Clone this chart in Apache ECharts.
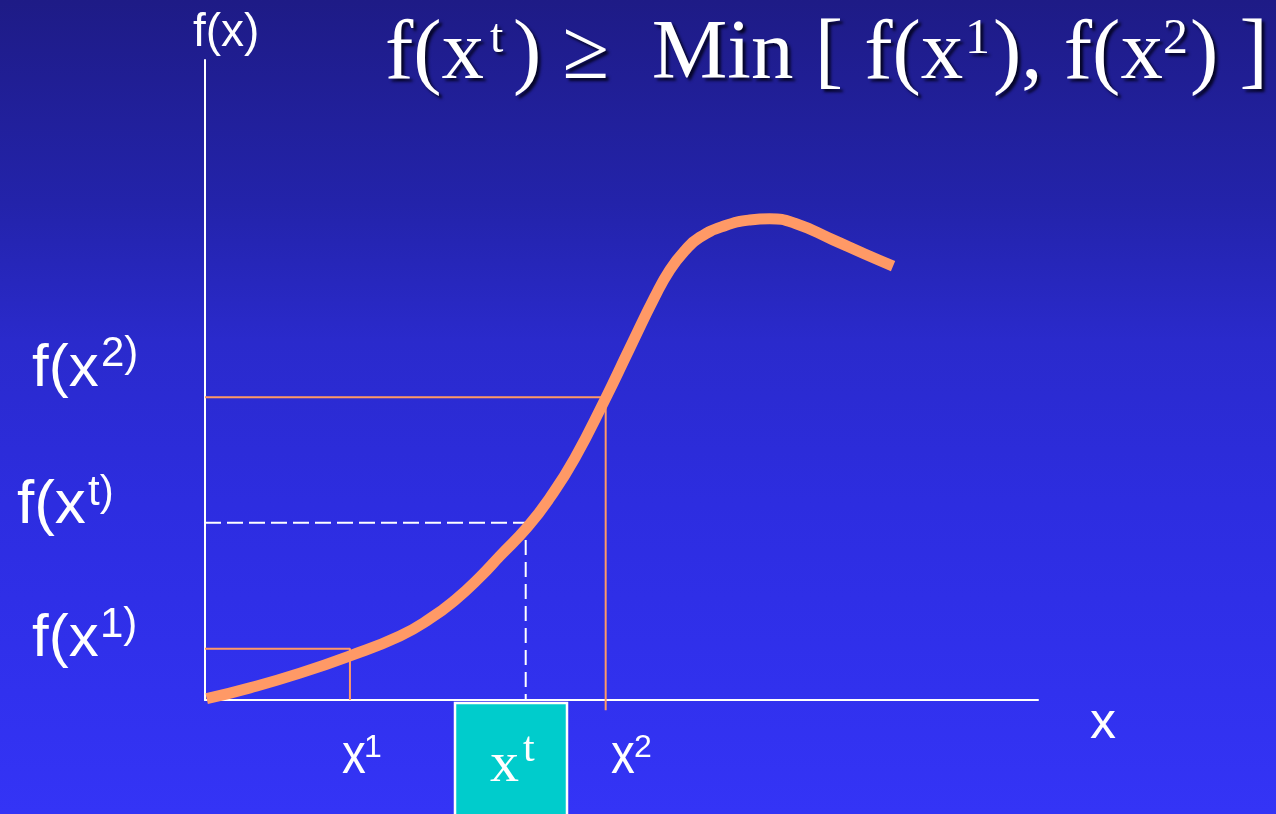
<!DOCTYPE html>
<html>
<head>
<meta charset="utf-8">
<script src="https://cdn.jsdelivr.net/npm/echarts@6/dist/echarts.min.js"></script>
<style>
  html, body { margin: 0; padding: 0; }
  body {
    background: linear-gradient(to bottom, #1e1b86 0%, #2323aa 25%, #2a2acc 42%, #2d2de0 62%, #3131ee 85%, #3434f6 100%);
  }
  #chart { width: 1276px; height: 814px; }
</style>
</head>
<body>
<div id="chart"></div>
<script>
  // curve f(x) (axis units 0..10 both ways)
  var curveX = [0.02, 0.54, 1.14, 1.74, 2.34, 2.70, 3.00, 3.30, 3.54, 3.87, 4.14, 4.44, 4.80, 5.10, 5.40, 5.58, 5.76, 5.94, 6.24, 6.54, 6.78, 7.08, 7.54, 7.92, 8.26];
  var curveY = [0.02, 0.19, 0.42, 0.69, 1.00, 1.27, 1.56, 1.92, 2.25, 2.70, 3.16, 3.78, 4.69, 5.50, 6.30, 6.72, 7.02, 7.23, 7.41, 7.50, 7.52, 7.45, 7.19, 6.97, 6.78];

  // the three marked points: x1, xt, x2 and their f values
  var markX = [1.74, 3.85, 4.81];
  var markF = [0.80, 2.77, 4.73];
  var dropFromT = 2.5;    // dashed drop line of xt starts just under the curve
  var dropBelow2 = -0.16; // x2 guide runs a little past the axis

  var orange = '#ff9966';
  var serif = '"Liberation Serif", "Times New Roman", serif';
  var sans = '"Liberation Sans", Arial, sans-serif';

  var curve = curveX.map(function (x, i) { return [x, curveY[i]]; });

  // text piece, anchored at its top-left corner
  function txt(text, x, y, size, family, opts) {
    opts = opts || {};
    var st = {
      text: text,
      fontSize: size, fontFamily: family,
      fill: '#fff',
      align: 'left', verticalAlign: 'top',
      textAlign: 'left', textVerticalAlign: 'top'
    };
    if (opts.shadow) {
      st.textShadowColor = 'rgba(0,0,20,0.85)';
      st.textShadowOffsetX = 3;
      st.textShadowOffsetY = 3;
      st.textShadowBlur = 3;
    }
    return { type: 'text', x: x, y: y, scaleX: opts.sx || 1, z: 100, style: st };
  }

  var myChart = echarts.init(document.getElementById('chart'));
  myChart.setOption({
    backgroundColor: 'transparent',
    animation: false,
    grid: { left: 205, top: 60, width: 833, height: 640, containLabel: false },
    xAxis: {
      type: 'value', min: 0, max: 10,
      axisLine: { show: true, lineStyle: { color: '#fff', width: 2 } },
      axisTick: { show: false }, axisLabel: { show: false }, splitLine: { show: false }
    },
    yAxis: {
      type: 'value', min: 0, max: 10,
      axisLine: { show: true, lineStyle: { color: '#fff', width: 2 } },
      axisTick: { show: false }, axisLabel: { show: false }, splitLine: { show: false }
    },
    series: [
      { // x1 guide
        type: 'line', showSymbol: false, clip: false, z: 2,
        lineStyle: { color: orange, width: 2 },
        data: [[0, markF[0]], [markX[0], markF[0]], [markX[0], 0]]
      },
      { // x2 guide
        type: 'line', showSymbol: false, clip: false, z: 2,
        lineStyle: { color: orange, width: 2 },
        data: [[0, markF[2]], [markX[2], markF[2]], [markX[2], dropBelow2]]
      },
      { // xt horizontal, dashed
        type: 'line', showSymbol: false, clip: false, z: 2,
        lineStyle: { color: '#fff', width: 2, type: [16, 6] },
        data: [[0, markF[1]], [markX[1], markF[1]]]
      },
      { // xt vertical, dashed
        type: 'line', showSymbol: false, clip: false, z: 2,
        lineStyle: { color: '#fff', width: 2, type: [15, 7] },
        data: [[markX[1], dropFromT], [markX[1], 0]]
      },
      { // f(x)
        type: 'line', smooth: 0.5, showSymbol: false, clip: false, z: 5,
        lineStyle: { color: orange, width: 11, cap: 'butt' },
        data: curve
      }
    ],
    graphic: [
      // title
      txt('f(x', 385, 13, 85, serif, { shadow: true }),
      txt('t', 490, 15, 48, serif, { shadow: true }),
      txt(') \u2265  Min [ f(x', 513, 13, 85, serif, { shadow: true }),
      txt('1', 965, 15, 50, serif, { shadow: true }),
      txt('), f(x', 993, 13, 85, serif, { shadow: true }),
      txt('2', 1163, 15, 50, serif, { shadow: true }),
      txt(') ]', 1190, 13, 85, serif, { shadow: true }),
      // axis names
      txt('f(x)', 193, 10, 46, sans),
      txt('x', 1090, 698, 52, sans),
      // left labels
      txt('f(x', 32, 339, 60, sans),
      txt('2)', 101, 333, 42, sans),
      txt('f(x', 17, 475, 62, sans),
      txt('t)', 88, 472, 42, sans),
      txt('f(x', 32, 609, 60, sans),
      txt('1)', 100, 604, 42, sans),
      // bottom labels
      txt('x', 342, 728, 58, sans, { sx: 0.82 }),
      txt('1', 364, 732, 32, sans),
      txt('x', 611, 728, 58, sans, { sx: 0.82 }),
      txt('2', 634, 732, 32, sans),
      {
        type: 'rect', z: 90,
        shape: { x: 455, y: 703, width: 112, height: 130 },
        style: { fill: '#00cccc', stroke: '#fff', lineWidth: 2.5 }
      },
      txt('x', 490, 737, 58, serif),
      txt('t', 523, 729, 42, serif)
    ]
  });
  window.addEventListener('resize', function () { myChart.resize(); });
</script>
</body>
</html>
